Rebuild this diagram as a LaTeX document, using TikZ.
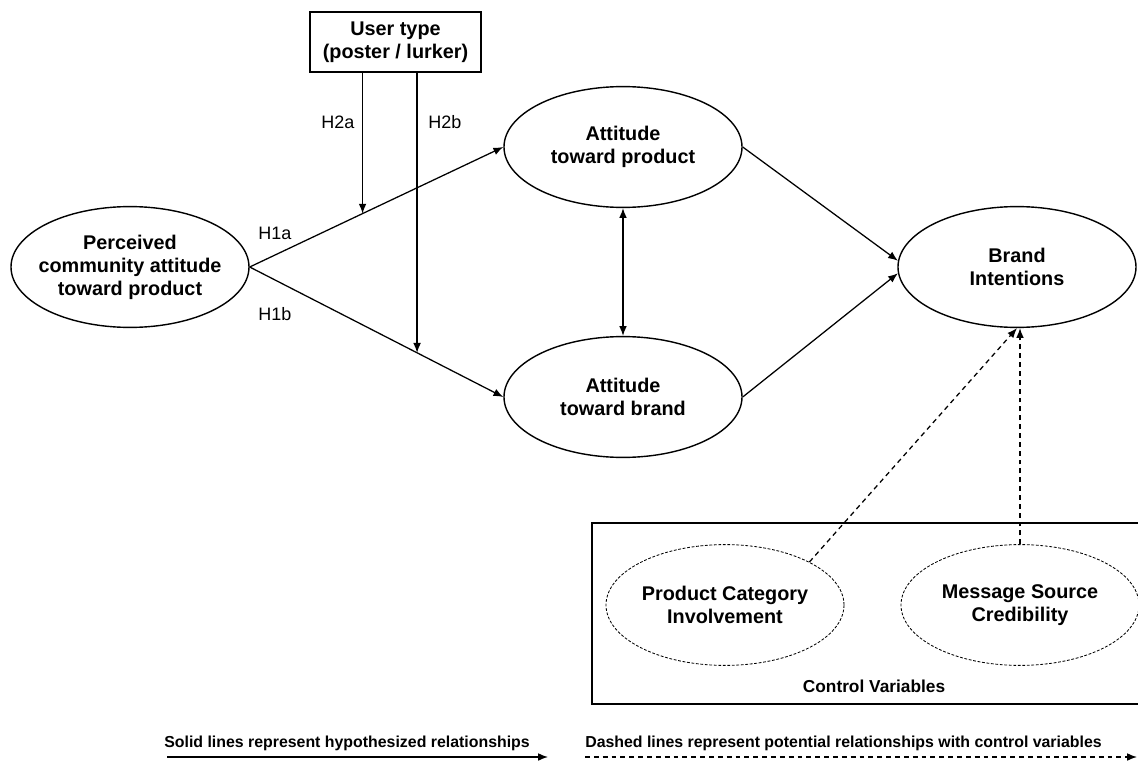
\documentclass[tikz,border=0pt]{standalone}
\usepackage{fontspec}
\setmainfont{Liberation Sans}
\usetikzlibrary{shapes.geometric,arrows.meta}
\tikzset{
  construct/.style={draw, ellipse, line width=1pt, minimum width=5.95cm, minimum height=3.02cm, inner sep=-6pt, align=center, font=\fontsize{14.1}{16.4}\selectfont\bfseries},
  control/.style={construct, line width=0.6pt, dash pattern=on 2pt off 1.2pt},
  hyp/.style={->, line width=0.9pt},
  ctl/.style={->, line width=0.9pt, dash pattern=on 3.5pt off 2.8pt},
  hlabel/.style={font=\fontsize{12.8}{15}\selectfont},
  legend/.style={anchor=base west, inner sep=0pt, font=\fontsize{11.3}{13}\selectfont\bfseries},
}
\begin{document}
\begin{tikzpicture}[>={Latex[length=7pt,width=5.5pt]}]
    \useasboundingbox (0,0) rectangle (28.45,-19.05);
    \node[draw, line width=1pt, minimum width=4.275cm, minimum height=1.5cm, align=center, font=\fontsize{14.1}{16.4}\selectfont\bfseries] (usertype) at (9.8875, -1.05) {User type\\(poster / lurker)};
    \node[construct] (perc) at (3.25, -6.675) {Perceived\\community attitude\\toward product};
    \node[construct] (attprod) at (15.575, -3.675) {Attitude\\toward product};
    \node[construct] (attbrand) at (15.575, -9.925) {Attitude\\toward brand};
    \node[construct] (intent) at (25.425, -6.675) {Brand\\Intentions};
    % control variables
    \node[draw, line width=1pt, minimum width=14.1cm, minimum height=4.525cm] (ctrlbox) at (21.85, -15.3375) {};
    \node[control] (pci) at (18.125, -15.125) {Product Category\\Involvement};
    \node[control] (msc) at (25.5, -15.125) {Message Source\\Credibility};
    \node[anchor=base, font=\fontsize{12.3}{14}\selectfont\bfseries] (ctrllabel) at ([yshift=0.3cm]ctrlbox.south) {Control Variables};
    % hypotheses
    \draw[hyp] (perc.east) -- coordinate[pos=0.445] (m1) (attprod.west);
    \draw[hyp] (perc.east) -- coordinate[pos=0.66] (m2) (attbrand.west);
    \draw[hyp] (usertype.south -| m1) -- (m1);
    \draw[hyp] (usertype.south -| m2) -- (m2);
    \node[hlabel] (h1a) at (6.875, -5.825) {H1a};
    \node[hlabel] (h1b) at (6.875, -7.85) {H1b};
    \node[hlabel] (h2a) at (8.45, -3.05) {H2a};
    \node[hlabel] (h2b) at (11.125, -3.05) {H2b};
    \draw[line width=0.9pt, <->] (attprod.south) -- (attbrand.north);
    \draw[hyp] (attprod.east) -- (intent.177);
    \draw[hyp] (attbrand.east) -- (intent.183);
    \draw[ctl] (pci.27) -- (intent.south);
    \draw[ctl] (msc.north) -- (msc.north |- intent.south);
    % legend
    \node[legend] (solidtxt) at (4.1, -18.675) {Solid lines represent hypothesized relationships};
    \node[legend] (dashtxt) at (14.625, -18.675) {Dashed lines represent potential relationships with control variables};
    \coordinate (solidA) at (4.175, -18.925);
    \coordinate (solidB) at (13.7, -18.925);
    \coordinate (dashA) at (14.625, -18.925);
    \coordinate (dashB) at (28.425, -18.925);
    \draw[hyp] (solidA) -- (solidB);
    \draw[ctl] (dashA) -- (dashB);
\end{tikzpicture}
\end{document}
